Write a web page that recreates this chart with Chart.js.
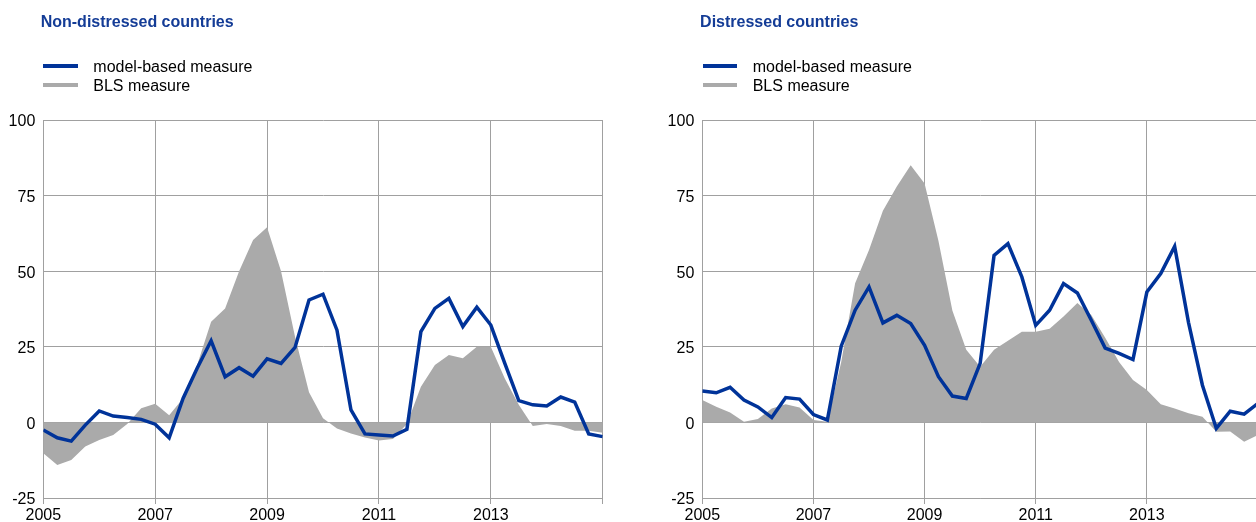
<!DOCTYPE html>
<html>
<head>
<meta charset="utf-8">
<script src="https://cdn.jsdelivr.net/npm/chart.js@4.4.1/dist/chart.umd.min.js"></script>
<style>
  html, body { margin:0; padding:0; background:#ffffff; width:1256px; height:522px; overflow:hidden; }
  .panel { position:absolute; top:0; width:640px; height:522px; }
  .panel canvas { position:absolute; left:0; top:0; }
  .title { position:absolute; top:13.5px; font:bold 16px 'Liberation Sans', Arial, sans-serif; line-height:16px; color:#143c96; white-space:nowrap; }
  .legtext { position:absolute; font:16px 'Liberation Sans', Arial, sans-serif; line-height:16px; color:#000; white-space:nowrap; }
  .legline { position:absolute; width:34.4px; height:4px; }
</style>
</head>
<body>
<div class="panel" id="p1" style="left:0px;">
  <canvas id="c1" width="640" height="522"></canvas>
  <div class="title" style="left:40.7px;">Non-distressed countries</div>
  <div class="legline" style="left:43.3px; top:64.3px; background:#003399;"></div>
  <div class="legtext" style="left:93.3px; top:59px;">model-based measure</div>
  <div class="legline" style="left:43.3px; top:83.3px; background:#aaaaaa;"></div>
  <div class="legtext" style="left:93.3px; top:77.5px;">BLS measure</div>
</div>
<div class="panel" id="p2" style="left:659.4px;">
  <canvas id="c2" width="640" height="522"></canvas>
  <div class="title" style="left:40.7px;">Distressed countries</div>
  <div class="legline" style="left:43.3px; top:64.3px; background:#003399;"></div>
  <div class="legtext" style="left:93.3px; top:59px;">model-based measure</div>
  <div class="legline" style="left:43.3px; top:83.3px; background:#aaaaaa;"></div>
  <div class="legtext" style="left:93.3px; top:77.5px;">BLS measure</div>
</div>
<script>
// ---- data ----
const quarters = [
  '2005Q1','2005Q2','2005Q3','2005Q4','2006Q1','2006Q2','2006Q3','2006Q4',
  '2007Q1','2007Q2','2007Q3','2007Q4','2008Q1','2008Q2','2008Q3','2008Q4',
  '2009Q1','2009Q2','2009Q3','2009Q4','2010Q1','2010Q2','2010Q3','2010Q4',
  '2011Q1','2011Q2','2011Q3','2011Q4','2012Q1','2012Q2','2012Q3','2012Q4',
  '2013Q1','2013Q2','2013Q3','2013Q4','2014Q1','2014Q2','2014Q3','2014Q4',
  '2015Q1'
];
const yearTicks = [2005, 2007, 2009, 2011, 2013, 2015];
const valueTicks = [-25, 0, 25, 50, 75, 100];

// Non-distressed countries
const nonDistressedModel = [
  -2.5, -5.1, -6.2, -0.9, 3.8, 2.1, 1.6, 1.0, -0.6, -5.1,
  8.0, 17.9, 27.0, 15.1, 18.1, 15.3, 21.0, 19.5, 24.8, 40.5,
  42.4, 30.5, 4.1, -3.8, -4.2, -4.5, -2.3, 30.0, 37.7, 41.0,
  31.7, 38.1, 32.2, 19.5, 7.2, 5.8, 5.4, 8.4, 6.7, -3.8,
  -4.7
];
const nonDistressedBLS = [
  -10.2, -14.1, -12.4, -8.0, -5.8, -4.2, -0.5, 4.7, 6.2, 2.4,
  8.0, 19.0, 33.3, 37.7, 50.0, 60.3, 64.5, 50.0, 28.3, 10.0,
  1.4, -2.0, -3.7, -5.0, -6.0, -5.5, -0.5, 11.8, 19.0, 22.3,
  21.2, 25.0, 25.0, 14.5, 5.8, -1.2, -0.5, -1.2, -2.8, -2.8,
  -3.4
];

// Distressed countries
const distressedModel = [
  10.4, 9.8, 11.6, 7.4, 5.1, 1.6, 8.2, 7.7, 2.6, 0.8,
  25.2, 37.1, 44.8, 32.9, 35.4, 32.7, 25.5, 15.1, 8.7, 7.9,
  19.5, 55.2, 59.1, 48.1, 32.1, 37.1, 45.9, 42.8, 33.8, 24.6,
  22.8, 20.8, 43.1, 49.2, 58.2, 33.0, 12.3, -2.0, 3.7, 2.7,
  6.3
];
const distressedBLS = [
  7.4, 5.2, 3.3, 0.2, 1.1, 4.6, 6.0, 4.9, 0.8, 0.2,
  20.0, 46.0, 57.0, 70.0, 78.0, 85.0, 79.0, 60.0, 37.0, 24.0,
  18.4, 24.0, 27.0, 30.0, 30.0, 31.0, 35.0, 39.5, 35.5, 28.0,
  20.0, 14.0, 10.7, 6.0, 4.6, 3.0, 1.9, -3.1, -3.0, -6.4,
  -4.2
];

// ---- chart ----
const GRID = '#a0a0a0';
const FONT = "'Liberation Sans', Arial, sans-serif";
const xValues = quarters.map(q => Number(q.slice(0, 4)) + (Number(q.slice(5)) - 1) / 4);

function makeChart(id, model, bls, yWidth, rightPad) {
  new Chart(document.getElementById(id), {
    type: 'line',
    data: {
      datasets: [
        {
          label: 'model-based measure',
          data: xValues.map((x, i) => ({ x: x, y: model[i] })),
          borderColor: '#003399',
          borderWidth: 3.5,
          pointRadius: 0,
          fill: false,
          tension: 0,
          order: 0
        },
        {
          label: 'BLS measure',
          data: xValues.map((x, i) => ({ x: x, y: bls[i] })),
          backgroundColor: '#aaaaaa',
          borderColor: 'rgba(0,0,0,0)',
          borderWidth: 0,
          pointRadius: 0,
          fill: 'origin',
          tension: 0,
          order: 1
        }
      ]
    },
    options: {
      responsive: false,
      animation: false,
      events: [],
      layout: { padding: { top: 120, right: rightPad, left: 0, bottom: 0 } },
      plugins: { legend: { display: false }, tooltip: { enabled: false }, title: { display: false } },
      scales: {
        x: {
          type: 'linear',
          min: 2005,
          max: 2015,
          afterBuildTicks: s => { s.ticks = yearTicks.map(v => ({ value: v })); },
          afterFit: s => { s.height = 24; },
          grid: { color: GRID, lineWidth: 1, drawTicks: true, tickLength: 6, tickColor: GRID },
          border: { color: GRID, width: 1 },
          ticks: {
            autoSkip: false, maxRotation: 0, padding: 2,
            color: '#000', font: { family: FONT, size: 16 },
            callback: v => (v === 2015 ? '' : String(v))
          }
        },
        y: {
          type: 'linear',
          min: -25,
          max: 100,
          afterBuildTicks: s => { s.ticks = valueTicks.map(v => ({ value: v })); },
          afterFit: s => { s.width = yWidth; },
          grid: { color: GRID, lineWidth: 1, drawTicks: false },
          border: { color: GRID, width: 1 },
          ticks: {
            padding: 8, labelOffset: 2, color: '#000', font: { family: FONT, size: 16 },
            callback: v => String(v)
          }
        }
      }
    }
  });
}

makeChart('c1', nonDistressedModel, nonDistressedBLS, 43.3, 37.3);
makeChart('c2', distressedModel, distressedBLS, 43.3, 41.0);
</script>
</body>
</html>
